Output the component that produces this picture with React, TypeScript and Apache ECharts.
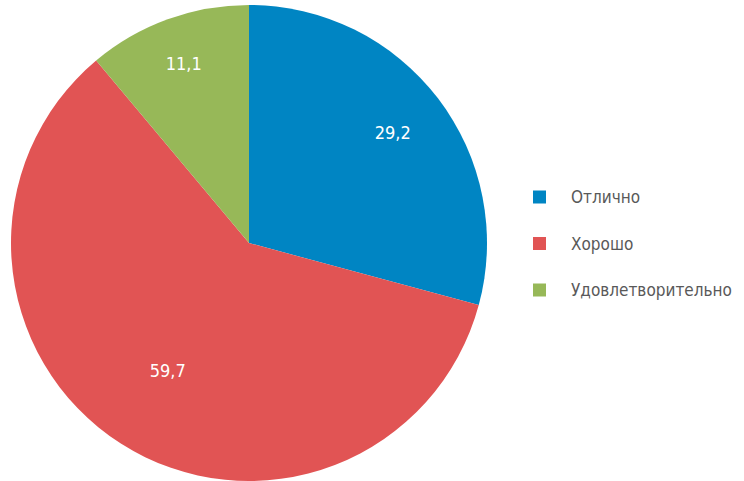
import React, { useEffect, useRef } from "react";
import * as echarts from "echarts";

const categories = ["Отлично", "Хорошо", "Удовлетворительно"];
const values = [29.2, 59.7, 11.1];
const colors = ["#0085C3", "#E15454", "#97B858"];
const labelRadii = [181, 151, 191];

const FONT = "'Liberation Sans Narrow', 'DejaVu Sans Condensed', 'Roboto', sans-serif";

export default function App() {
  const ref = useRef<HTMLDivElement>(null);
  useEffect(() => {
    if (!ref.current) return;
    const chart = echarts.init(ref.current, null, { renderer: "svg" });
    const data = categories.map((name, i) => ({
      name,
      value: values[i],
      itemStyle: { color: colors[i] },
    }));
    const labelSeries = categories.map((_, k) => ({
      type: "pie" as const,
      center: [249, 243],
      radius: [labelRadii[k] * 2 - 238 - 6, 238],
      startAngle: 90,
      clockwise: true,
      silent: true,
      legendHoverLink: false,
      z: 5,
      data: categories.map((name, i) => ({
        name,
        value: values[i],
        itemStyle: { color: "rgba(0,0,0,0)" },
        label: {
          show: i === k,
          position: "inside",
          formatter: (p: any) => String(p.value).replace(".", ","),
          color: "#ffffff",
          fontSize: 18,
          fontFamily: FONT,
        },
      })),
      labelLine: { show: false },
      emphasis: { disabled: true },
    }));
    chart.setOption({
      animation: false,
      legend: {
        orient: "vertical",
        left: 528,
        top: 183,
        itemWidth: 13,
        itemHeight: 13,
        itemGap: 28.5,
        icon: "rect",
        data: categories,
        textStyle: {
          color: "#595959",
          fontSize: 17,
          lineHeight: 18,
          fontFamily: FONT,
          padding: [0, 0, 0, 20],
        },
      },
      series: [
        {
          type: "pie",
          center: [249, 243],
          radius: [0, 238],
          startAngle: 90,
          clockwise: true,
          data,
          label: { show: false },
          labelLine: { show: false },
          emphasis: { disabled: true },
        },
        ...labelSeries,
      ],
    });
    return () => chart.dispose();
  }, []);
  return <div ref={ref} style={{ width: 744, height: 481, position: "absolute", left: 0, top: 0 }} />;
}
